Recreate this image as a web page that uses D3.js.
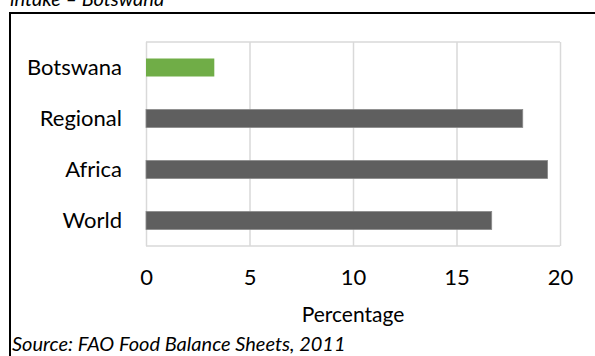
<!DOCTYPE html>
<html>
<head>
<meta charset="utf-8">
<script src="https://cdn.jsdelivr.net/npm/d3@7"></script>
<style>
  html, body { margin: 0; padding: 0; background: #fff; }
  svg { display: block; }
  text { font-family: Lato, "Open Sans", sans-serif; fill: #000; }
</style>
</head>
<body>
<svg id="chart" width="595" height="356"></svg>
<script>
// Share of dietary energy intake, by region
const categories = ["Botswana", "Regional", "Africa", "World"];
const values = [3.3, 18.2, 19.4, 16.7];
const barColors = ["#70ad47", "#5f5f5f", "#5f5f5f", "#5f5f5f"];
const xTicks = [0, 5, 10, 15, 20];
const titleText = "intake \u2013 Botswana";
const axisTitle = "Percentage";
const sourceText = "Source: FAO Food Balance Sheets, 2011";

const svg = d3.select("#chart");
const W = 595, H = 356;
const plot = { left: 146, right: 560, top: 42, bottom: 246 };

const x = d3.scaleLinear().domain([0, 20]).range([plot.left, plot.right]);
const y = d3.scaleBand().domain(categories)
  .range([plot.top, plot.bottom])
  .paddingInner(0.647).paddingOuter(0.3235);

// heading, clipped by the top of the page
svg.append("text")
  .attr("x", 10).attr("y", 6)
  .style("font-style", "italic")
  .style("font-size", "20px")
  .text(titleText);

// outer frame (top and left edges)
svg.append("path")
  .attr("d", `M10,${H} L10,13 L${W},13`)
  .attr("fill", "none")
  .attr("stroke", "#000")
  .attr("stroke-width", 2);

// vertical gridlines
const grid = svg.append("g")
  .attr("transform", `translate(0,${plot.bottom})`)
  .call(d3.axisBottom(x).tickValues(xTicks)
    .tickSize(-(plot.bottom - plot.top)).tickFormat(""));
grid.select(".domain").remove();
grid.selectAll("line").attr("stroke", "#d9d9d9").attr("stroke-width", 1.5);

// top and bottom edges of the plot area
svg.append("g").selectAll("line")
  .data([plot.top, plot.bottom])
  .join("line")
  .attr("x1", x(0)).attr("x2", x(20))
  .attr("y1", d => d).attr("y2", d => d)
  .attr("stroke", "#d9d9d9").attr("stroke-width", 1.5);

// bars
svg.append("g").selectAll("rect")
  .data(categories)
  .join("rect")
  .attr("x", x(0))
  .attr("y", d => y(d))
  .attr("width", (d, i) => x(values[i]) - x(0))
  .attr("height", y.bandwidth())
  .attr("fill", (d, i) => barColors[i])
  .attr("stroke", (d, i) => i === 0 ? "none" : "#8a8a8a")
  .attr("stroke-width", 0.8);

// category labels
const yAxis = svg.append("g")
  .attr("transform", `translate(${plot.left - 24},0)`)
  .call(d3.axisLeft(y).tickSize(0).tickPadding(0));
yAxis.select(".domain").remove();
yAxis.selectAll("text")
  .style("font-size", "22px")
  .style("font-family", "Lato, sans-serif")
  .attr("fill", "#000");

// value axis labels
const xAxis = svg.append("g")
  .attr("transform", `translate(0,${plot.bottom})`)
  .call(d3.axisBottom(x).tickValues(xTicks).tickSize(0).tickPadding(23));
xAxis.select(".domain").remove();
xAxis.selectAll("text")
  .style("font-size", "22px")
  .style("font-family", "Lato, sans-serif")
  .attr("fill", "#000");

// axis title
svg.append("text")
  .attr("x", (plot.left + plot.right) / 2)
  .attr("y", 322)
  .attr("text-anchor", "middle")
  .style("font-size", "21px")
  .text(axisTitle);

// source note
svg.append("text")
  .attr("x", 12).attr("y", 351)
  .style("font-style", "italic")
  .style("font-size", "20px")
  .text(sourceText);
</script>
</body>
</html>
